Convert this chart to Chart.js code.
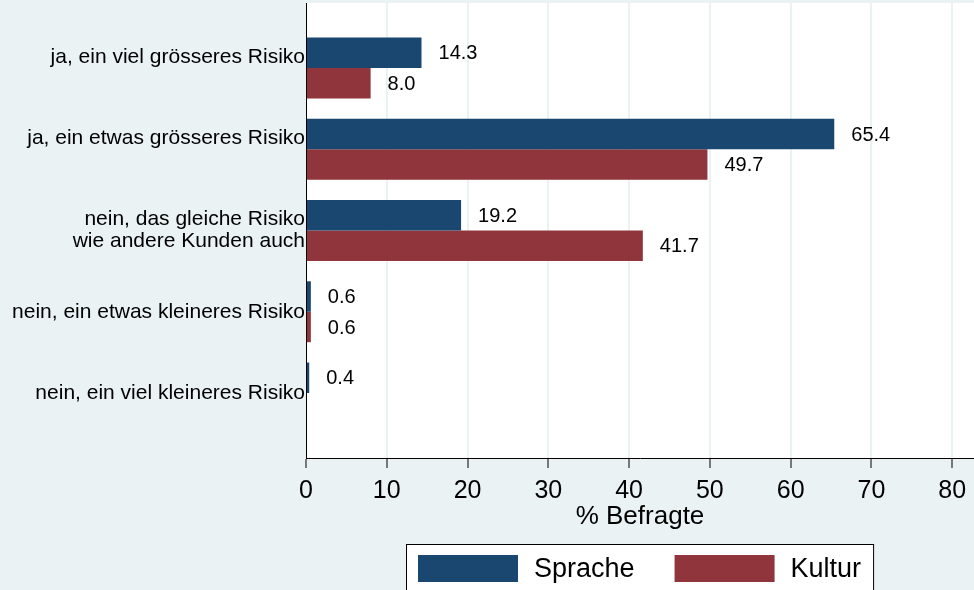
<!DOCTYPE html>
<html>
<head>
<meta charset="utf-8">
<script src="https://cdn.jsdelivr.net/npm/chart.js@4/dist/chart.umd.min.js"></script>
<style>
  html, body { margin: 0; padding: 0; background: #EAF2F3; }
  #wrap { width: 974px; height: 590px; }
</style>
</head>
<body>
<div id="wrap"><canvas id="c" width="974" height="590"></canvas></div>
<script>
// ---- data ----
const categories = [
  ["ja, ein viel grösseres Risiko", ""],
  ["ja, ein etwas grösseres Risiko", ""],
  ["nein, das gleiche Risiko", "wie andere Kunden auch"],
  ["nein, ein etwas kleineres Risiko"],
  ["nein, ein viel kleineres Risiko"]
];
const seriesNames = ["Sprache", "Kultur"];
const sprache = [14.3, 65.4, 19.2, 0.6, 0.4];
const kultur  = [8.0, 49.7, 41.7, 0.6, null];
const xTicks  = [0, 10, 20, 30, 40, 50, 60, 70, 80];
const xTitle  = "% Befragte";

const colors = ["#1A476F", "#90353B"];
const FONT = "'Liberation Sans', Arial, Helvetica, sans-serif";

function toPoints(arr) {
  return arr.map((v, i) => ({ x: v, y: i + 1 }));
}

const bgPlugin = {
  id: 'bg',
  beforeDraw(chart) {
    const { ctx, chartArea: a } = chart;
    ctx.save();
    ctx.fillStyle = '#EAF2F3';
    ctx.fillRect(0, 0, chart.width, chart.height);
    ctx.fillStyle = '#FFFFFF';
    ctx.fillRect(a.left, a.top, a.right - a.left, a.bottom - a.top);
    ctx.restore();
  }
};

const valueLabels = {
  id: 'valueLabels',
  afterDatasetsDraw(chart) {
    const { ctx } = chart;
    ctx.save();
    ctx.font = "20px " + FONT;
    ctx.fillStyle = '#000';
    ctx.textAlign = 'left';
    ctx.textBaseline = 'middle';
    chart.data.datasets.forEach((ds, di) => {
      const meta = chart.getDatasetMeta(di);
      meta.data.forEach((el, i) => {
        const v = ds.data[i].x;
        if (v === null || v === undefined) return;
        ctx.fillText(v.toFixed(1), el.x + 17, el.y + 1);
      });
    });
    ctx.restore();
  }
};

const boxLegend = {
  id: 'boxLegend',
  afterDraw(chart) {
    const { ctx, chartArea: a } = chart;
    ctx.save();
    ctx.font = "27px " + FONT;
    const pad = 12, sw = 100, sh = 27, gap = 16, between = 40;
    const items = chart.data.datasets.map(ds => ({ label: ds.label, color: ds.backgroundColor, w: ctx.measureText(ds.label).width }));
    let total = pad * 2;
    items.forEach((it, i) => { total += sw + gap + it.w + (i < items.length - 1 ? between : 0); });
    const cx = (a.left + a.right) / 2;
    const left = Math.round(cx - total / 2);
    const top = 544;
    ctx.fillStyle = '#FFFFFF';
    ctx.fillRect(left, top, total, 60);
    ctx.strokeStyle = '#000';
    ctx.lineWidth = 1;
    ctx.strokeRect(left + 0.5, top + 0.5, total, 60);
    let x = left + pad;
    items.forEach((it, i) => {
      ctx.fillStyle = it.color;
      ctx.fillRect(x, 555, sw, sh);
      x += sw + gap;
      ctx.fillStyle = '#000';
      ctx.textAlign = 'left';
      ctx.textBaseline = 'middle';
      ctx.fillText(it.label, x, 570);
      x += it.w + between;
    });
    ctx.restore();
  }
};

new Chart(document.getElementById('c'), {
  type: 'bar',
  data: {
    datasets: [
      { label: seriesNames[0], data: toPoints(sprache), backgroundColor: colors[0], borderWidth: 0 },
      { label: seriesNames[1], data: toPoints(kultur), backgroundColor: colors[1], borderWidth: 0 }
    ]
  },
  options: {
    indexAxis: 'y',
    responsive: false,
    animation: false,
    devicePixelRatio: 1,
    categoryPercentage: 0.75,
    barPercentage: 1.0,
    layout: { padding: { top: 3, right: 0, bottom: 60, left: 0 } },
    plugins: {
      legend: { display: false },
      tooltip: { enabled: false }
    },
    scales: {
      x: {
        type: 'linear',
        min: 0,
        max: 82.7,
        afterBuildTicks(scale) { scale.ticks = xTicks.map(v => ({ value: v })); },
        afterFit(scale) { scale.height = 72; scale.paddingLeft = 0; scale.paddingRight = 0; },
        grid: { color: '#EAF2F3', lineWidth: 2, drawTicks: true, tickLength: 10, tickColor: '#000', tickWidth: 1 },
        border: { display: true, color: '#000', width: 1 },
        ticks: { color: '#000', font: { family: FONT, size: 25 }, padding: 8, maxRotation: 0 },
        title: { display: true, text: xTitle, color: '#000', font: { family: FONT, size: 26, lineHeight: 1.0 }, padding: { top: 0, bottom: 0 } }
      },
      y: {
        type: 'linear',
        reverse: true,
        offset: false,
        grace: 0,
        min: 0.2,
        max: 5.8,
        afterBuildTicks(scale) { scale.ticks = categories.map((c, i) => ({ value: i + 1 })); },
        afterFit(scale) { scale.width = 306; scale.paddingTop = 0; scale.paddingBottom = 0; },
        grid: { display: false, drawTicks: false },
        border: { display: true, color: '#000', width: 1 },
        ticks: {
          color: '#000',
          font: { family: FONT, size: 21, lineHeight: 1.05 },
          padding: 1,
          callback: (v) => categories[Math.round(v) - 1]
        }
      }
    }
  },
  plugins: [bgPlugin, valueLabels, boxLegend]
});
</script>
</body>
</html>
